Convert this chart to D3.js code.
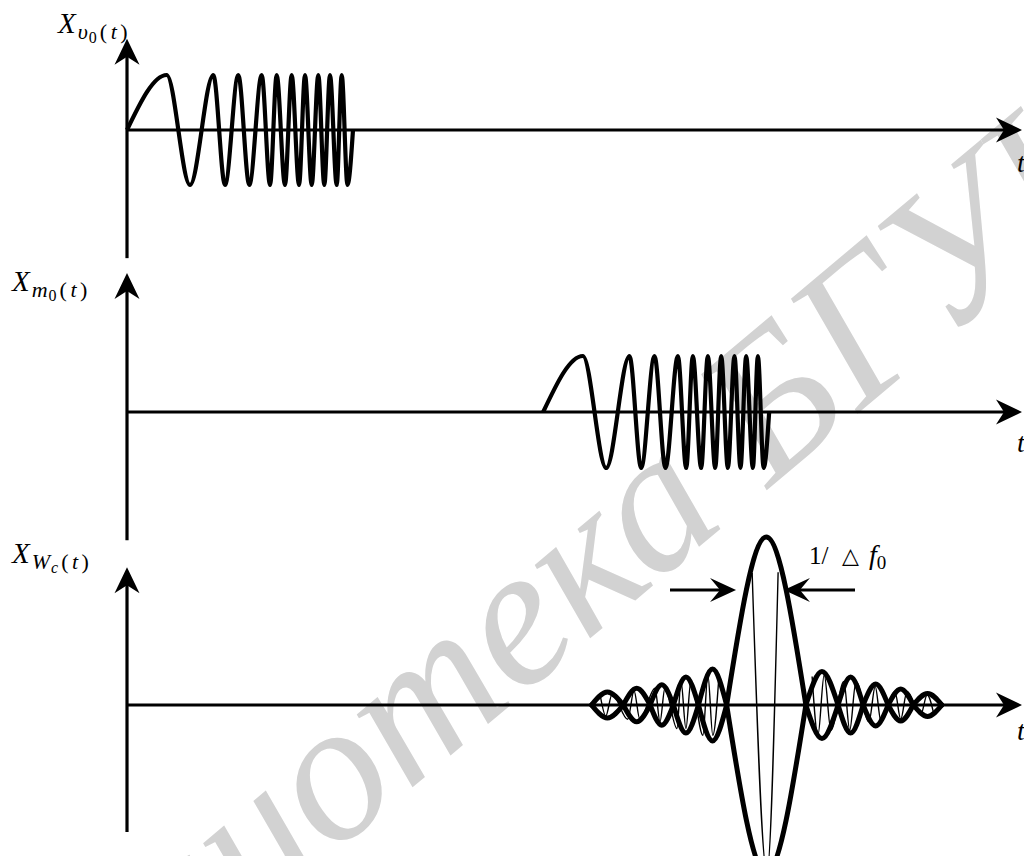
<!DOCTYPE html>
<html>
<head>
<meta charset="utf-8">
<script src="https://cdn.jsdelivr.net/npm/d3@7"></script>
<style>
  body { margin: 0; background: #fff; }
  svg { display: block; }
</style>
</head>
<body>
<svg id="chart" width="1024" height="856"></svg>
<script>
// ---- data -----------------------------------------------------------------
// shared time axis (arbitrary units)
const timeDomain = [0, 200];

// one linear-FM sweep, listed by its turning points [t, level]
const chirpTurns = [
  [0, 0], [8.87, 1], [14.08, -1], [19.28, 1], [21.9, -1], [24.87, 1],
  [27.33, -1], [30.1, 1], [31.96, -1], [33.45, 1], [35.3, -1], [36.8, 1],
  [38.44, -1], [39.78, 1], [41.27, -1], [42.75, 1], [44.09, -1], [45.36, 1],
  [46.86, -1], [47.98, 1], [49.27, -1], [50.5, 0]
];
// start time of the sweep in each of the two upper traces
const sweepDelays = [0, 93.0];

// compressed pulse: envelope lobes [start, end, peak level]
const lobes = [
  [103.8, 110.9, 0.077], [110.9, 116.9, 0.10], [116.9, 122.1, 0.12],
  [122.1, 127.7, 0.167], [127.7, 134.0, 0.214], [134.0, 151.7, 1.0],
  [151.7, 158.9, 0.20], [158.9, 164.5, 0.167], [164.5, 170.1, 0.125],
  [170.1, 175.7, 0.095], [175.7, 182.1, 0.068]
];

// carrier inside the compressed pulse, turning points [t, level]
const carrierRuns = [
  [[105.7, 0.065], [107.0, -0.065], [108.4, 0.065], [111.9, -0.085], [113.3, 0.085],
   [114.6, -0.085], [118.0, 0.10], [119.1, -0.10], [120.2, 0.10], [122.9, -0.14],
   [123.8, 0.14], [124.9, -0.14], [126.0, 0.14], [128.7, -0.18], [129.8, 0.18],
   [130.9, -0.18], [132.3, 0.18]],
  [[139.7, 0.786], [143.0, -1.0], [145.5, 0.79]],
  [[153.1, 0.17], [154.4, -0.18], [155.8, 0.18], [157.3, -0.15], [160.2, 0.14],
   [161.5, -0.15], [162.9, 0.14], [165.8, -0.10], [167.2, 0.11], [168.5, -0.10],
   [171.6, 0.08], [172.9, -0.085], [174.3, 0.08], [177.4, -0.055], [178.8, 0.06],
   [180.3, -0.055]]
];

// axis annotation: width of the main lobe
const widthMarks = [136.1, 146.8];   // arrow tips on the time axis
const widthLevel = 0.685;            // height at which the width is marked

// ---- layout ---------------------------------------------------------------
const W = 1024, H = 856;
const svg = d3.select("#chart");
svg.append("rect").attr("width", W).attr("height", H).attr("fill", "#fff");

// library watermark behind the drawing
svg.append("text")
  .attr("transform", "translate(600,630) rotate(-40)")
  .attr("text-anchor", "middle")
  .attr("font-family", "Liberation Serif")
  .attr("font-style", "italic")
  .attr("font-size", 200)
  .attr("fill", "#d2d2d2")
  .text("Библиотека БГУИР");

const x = d3.scaleLinear().domain(timeDomain).range([127, 1022]);

const panels = [
  { zero: 130, amp: 55, ext: [-2.33, 1.66], tY: 172 },
  { zero: 412, amp: 56, ext: [-2.29, 2.48], tY: 452 },
  { zero: 705, amp: 168, ext: [-0.756, 0.82], tY: 740 }
];
panels.forEach(p => {
  p.y = d3.scaleLinear().domain([-1, 1]).range([p.zero + p.amp, p.zero - p.amp]);
});

const g = svg.append("g");

// notched arrowhead with tip at (px, py), pointing along angle (deg)
function arrowHead(px, py, angle, len = 26, half = 12.5, notch = 18) {
  g.append("path")
    .attr("d", `M0,0L${-len},${-half}L${-notch},0L${-len},${half}Z`)
    .attr("transform", `translate(${px},${py}) rotate(${angle})`)
    .attr("fill", "#000");
}

// axes
panels.forEach(p => {
  const x0 = x(timeDomain[0]), x1 = x(timeDomain[1]);
  const yb = p.y(p.ext[0]), yt = p.y(p.ext[1]);
  g.append("line").attr("x1", x0).attr("x2", x1 - 12)
    .attr("y1", p.y(0)).attr("y2", p.y(0))
    .attr("stroke", "#000").attr("stroke-width", 3.2);
  arrowHead(x1, p.y(0), 0);
  g.append("line").attr("x1", x0).attr("x2", x0)
    .attr("y1", yb).attr("y2", yt + 12)
    .attr("stroke", "#000").attr("stroke-width", 3.2);
  arrowHead(x0, yt, -90);
  g.append("text").attr("x", 1017).attr("y", p.tY)
    .attr("font-family", "Liberation Serif").attr("font-style", "italic")
    .attr("font-size", 28).text("t");
});

// two sweeps: transmitted and delayed
sweepDelays.forEach((delay, i) => {
  const p = panels[i];
  const line = d3.line()
    .x(d => x(d[0] + delay)).y(d => p.y(d[1]))
    .curve(d3.curveMonotoneX);
  g.append("path").datum(chirpTurns).attr("d", line)
    .attr("fill", "none").attr("stroke", "#000")
    .attr("stroke-width", 4.2).attr("stroke-linejoin", "round");
});

// compressed pulse
const p3 = panels[2];
const lobeLine = d3.line().x(d => x(d[0])).y(d => p3.y(d[1])).curve(d3.curveNatural);
lobes.forEach(([a, b, h]) => {
  const m = (a + b) / 2;
  [1, -1].forEach(s => {
    g.append("path").datum([[a, 0], [m, s * h], [b, 0]]).attr("d", lobeLine)
      .attr("fill", "none").attr("stroke", "#000")
      .attr("stroke-width", 5).attr("stroke-linecap", "round");
  });
});
const carrierLine = d3.line().x(d => x(d[0])).y(d => p3.y(d[1])).curve(d3.curveMonotoneX);
carrierRuns.forEach(run => {
  g.append("path").datum(run).attr("d", carrierLine)
    .attr("fill", "none").attr("stroke", "#000").attr("stroke-width", 1.4);
});

// main-lobe width marker
const wy = p3.y(widthLevel);
g.append("line").attr("x1", 670).attr("x2", x(widthMarks[0]) - 10)
  .attr("y1", wy).attr("y2", wy).attr("stroke", "#000").attr("stroke-width", 3);
arrowHead(x(widthMarks[0]), wy, 0, 26, 12, 16);
g.append("line").attr("x1", 855).attr("x2", x(widthMarks[1]) + 10)
  .attr("y1", wy).attr("y2", wy).attr("stroke", "#000").attr("stroke-width", 3);
arrowHead(x(widthMarks[1]), wy, 180, 26, 12, 16);

const wl = g.append("text").attr("y", 564).attr("font-family", "Liberation Serif");
wl.append("tspan").attr("x", 809).attr("font-size", 25).text("1/");
wl.append("tspan").attr("x", 842).attr("y", 563).attr("font-family", "DejaVu Sans").attr("font-size", 22).text("\u25B3");
wl.append("tspan").attr("x", 869).attr("y", 564).attr("font-style", "italic").attr("font-size", 28).text("f");
wl.append("tspan").attr("font-size", 19).attr("dy", 5).text("0");

// trace labels: X with a subscript that carries its own index and (t)
function traceLabel(px, py, sub, idx, idxItalic) {
  const t = g.append("text").attr("x", px).attr("y", py)
    .attr("font-family", "Liberation Serif").attr("font-size", 29);
  t.append("tspan").attr("font-style", "italic").text("X");
  t.append("tspan").attr("font-style", "italic").attr("font-size", 22)
    .attr("dx", 2).attr("dy", 6).text(sub);
  t.append("tspan").attr("font-size", 16).attr("dy", 4).attr("dx", 1)
    .attr("font-style", idxItalic ? "italic" : "normal").text(idx);
  const rest = t.append("tspan").attr("font-size", 22).attr("dy", -4).attr("dx", 3)
    .attr("letter-spacing", 3.5);
  rest.append("tspan").text("(");
  rest.append("tspan").attr("font-style", "italic").text("t");
  rest.append("tspan").text(")");
}
traceLabel(58, 33, "\u03C5", "0", false);
traceLabel(12, 291, "m", "0", false);
traceLabel(12, 563, "W", "c", true);
</script>
</body>
</html>
